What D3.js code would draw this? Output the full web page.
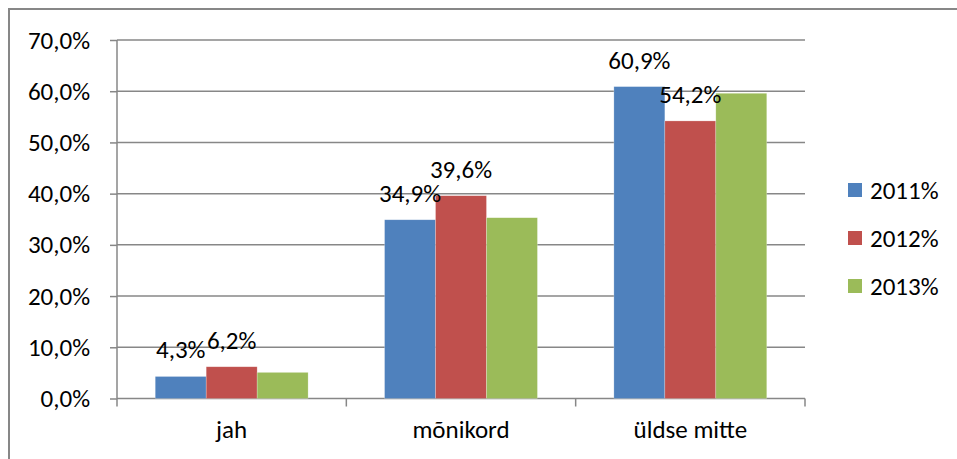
<!DOCTYPE html>
<html>
<head>
<meta charset="utf-8">
<script src="https://cdn.jsdelivr.net/npm/d3@7"></script>
<style>
  body { margin: 0; background: #fff; }
  svg text { font-family: Carlito, Calibri, Lato, "Open Sans", sans-serif; }
</style>
</head>
<body>
<div class="chart"></div>
<script>
// categories and series
var categories = ["jah", "mõnikord", "üldse mitte"];
var seriesNames = ["2011%", "2012%", "2013%"];
var values2011 = [4.3, 34.9, 60.9];
var values2012 = [6.2, 39.6, 54.2];
var values2013 = [5.1, 35.3, 59.6];
var yTicks = [0, 10, 20, 30, 40, 50, 60, 70];
var colors = ["#4F81BD", "#C0504D", "#9BBB59"];
// only the first two series carry value labels in the original
var labelled = [true, true, false];

var allSeries = [values2011, values2012, values2013];
var fontSize = 25;

var svg = d3.select(".chart").append("svg")
    .attr("width", 957)
    .attr("height", 459);

//Outer chart border.
svg.append("rect")
    .attr("x", 9).attr("y", 9)
    .attr("width", 960).attr("height", 460)
    .attr("fill", "none")
    .attr("stroke", "#878787")
    .attr("stroke-width", 2);

var plotLeft = 117, plotRight = 805, plotTop = 40, plotBottom = 398.5;

var x0 = d3.scaleBand().domain(categories).range([plotLeft, plotRight]);
var x1 = d3.scaleBand().domain(d3.range(seriesNames.length))
    .range([0, x0.bandwidth()]).paddingInner(0).paddingOuter(0.75);
var y = d3.scaleLinear().domain([0, 70]).range([plotBottom, plotTop]);

var fmt = function(v) { return v.toFixed(1).replace(".", ",") + "%"; };

//Gridlines.
svg.append("g").selectAll("line").data(yTicks.slice(1)).enter()
    .append("line")
    .attr("x1", plotLeft).attr("x2", plotRight)
    .attr("y1", function(d) { return y(d); })
    .attr("y2", function(d) { return y(d); })
    .attr("stroke", "#878787").attr("stroke-width", 1.5);

//Y axis.
var yAxis = svg.append("g")
    .attr("transform", "translate(" + plotLeft + ",0)")
    .call(d3.axisLeft(y).tickValues(yTicks).tickSize(7).tickPadding(20)
        .tickFormat(fmt));
yAxis.attr("font-family", null).attr("font-size", null);
yAxis.selectAll("line, path").attr("stroke", "#878787").attr("stroke-width", 1.5);
yAxis.select(".domain").attr("d", "M0," + plotTop + "V" + plotBottom);
yAxis.selectAll("text").attr("font-size", fontSize).attr("fill", "#000");

//X axis.
var xAxis = svg.append("g")
    .attr("transform", "translate(0," + plotBottom + ")")
    .call(d3.axisBottom(x0).tickSize(0).tickPadding(22));
xAxis.attr("font-family", null).attr("font-size", null);
xAxis.select(".domain").attr("stroke", "#878787").attr("stroke-width", 1.5)
    .attr("d", "M" + plotLeft + ",0H" + plotRight);
xAxis.selectAll("text").attr("font-size", fontSize).attr("fill", "#000");
//Category separators.
var bounds = categories.map(function(c) { return x0(c); }).concat([plotRight]);
xAxis.selectAll(".sep").data(bounds).enter().append("line")
    .attr("x1", function(d) { return d; }).attr("x2", function(d) { return d; })
    .attr("y1", 0).attr("y2", 8)
    .attr("stroke", "#878787").attr("stroke-width", 1.5);

//Bars.
allSeries.forEach(function(vals, s) {
    svg.append("g").selectAll("rect").data(vals).enter().append("rect")
        .attr("x", function(d, i) { return x0(categories[i]) + x1(s); })
        .attr("y", function(d) { return y(d); })
        .attr("width", x1.bandwidth())
        .attr("height", function(d) { return plotBottom - y(d); })
        .attr("fill", colors[s])
        .attr("stroke", "#fff").attr("stroke-opacity", 0.4).attr("stroke-width", 0.6);
});

//Value labels.
allSeries.forEach(function(vals, s) {
    if (!labelled[s]) return;
    svg.append("g").selectAll("text").data(vals).enter().append("text")
        .attr("x", function(d, i) { return x0(categories[i]) + x1(s) + x1.bandwidth() / 2; })
        .attr("y", function(d) { return y(d) - 18; })
        .attr("text-anchor", "middle")
        .attr("font-size", fontSize)
        .text(fmt);
});

//Legend.
var legend = svg.append("g").selectAll("g").data(seriesNames).enter().append("g")
    .attr("transform", function(d, i) { return "translate(848," + (183 + i * 48) + ")"; });
legend.append("rect").attr("width", 14).attr("height", 14)
    .attr("fill", function(d, i) { return colors[i]; });
legend.append("text").attr("x", 22).attr("y", 7).attr("dy", "0.35em")
    .attr("font-size", fontSize).text(function(d) { return d; });
</script>
</body>
</html>
